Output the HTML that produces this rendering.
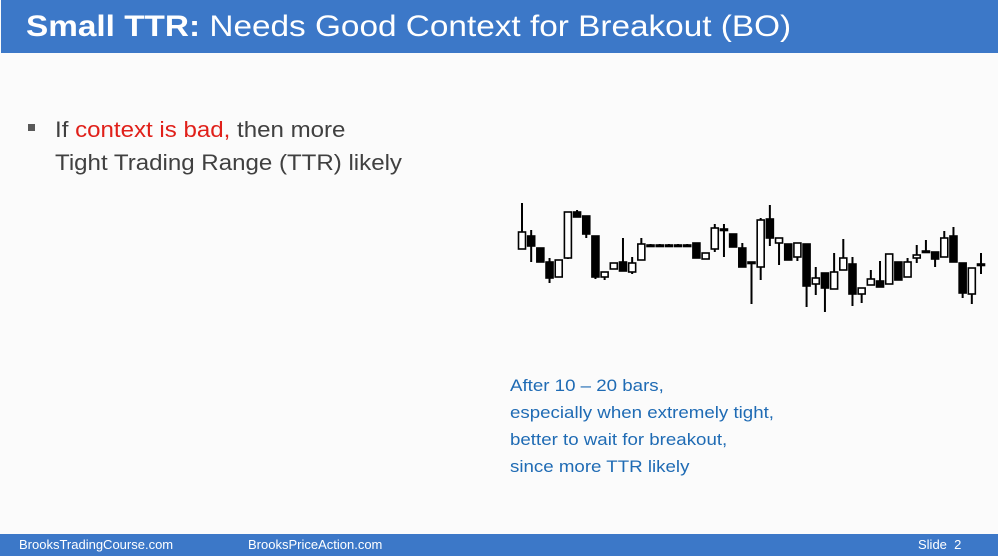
<!DOCTYPE html>
<html><head><meta charset="utf-8"><style>
body{margin:0;width:998px;height:556px;overflow:hidden;background:#fbfbfb;font-family:"Liberation Sans",sans-serif;position:relative}
#hdr{position:absolute;left:1px;top:0;width:997px;height:53px;background:#3c78c8;color:#fff;font-size:29.5px;line-height:53px;}
#hdr span{position:absolute;left:25px;top:0;white-space:nowrap;transform:scaleX(1.13);transform-origin:0 50%}
#ftr{position:absolute;left:0;top:534px;width:998px;height:22px;background:#3c78c8;color:#fff;font-size:13px;line-height:22px}
.ft{position:absolute;top:0}
#bul{position:absolute;left:55px;top:113px;font-size:22.5px;line-height:33px;color:#404040;white-space:nowrap;transform:scaleX(1.07);transform-origin:0 0}
#sq{position:absolute;left:28px;top:124px;width:7px;height:7px;background:#595959}
#note{position:absolute;left:510px;top:372px;font-size:17px;line-height:27px;color:#1f6bb4;white-space:nowrap;transform:scaleX(1.1);transform-origin:0 0}
</style></head><body>
<div id="hdr"><span><b>Small TTR:</b> Needs Good Context for Breakout (BO)</span></div>
<div id="sq"></div>
<div id="bul">If <span style="color:#e0201a">context is bad,</span> then more<br>Tight Trading Range (TTR) likely</div>
<svg id="chart" style="position:absolute;left:0;top:0" width="998" height="556"></svg>
<div id="note">After 10 – 20 bars,<br>especially when extremely tight,<br>better to wait for breakout,<br>since more TTR likely</div>
<div id="ftr">
<span class="ft" style="left:19px">BrooksTradingCourse.com</span>
<span class="ft" style="left:248px">BrooksPriceAction.com</span>
<span class="ft" style="left:918px">Slide&nbsp; 2</span>
</div>
<script>
const opens =[71,84,72,58,43,62,108,104,84,43,51,58,48,60,75,75,75,75,75,77,61,71,91,86,72,58,53,101,77,76,63,76,36,47,31,50,56,26,35,39,36,58,43,62,69,68,63,84,57,26,56];
const highs =[117,90,72,62,60,108,110,104,84,48,57,82,63,82,76,76,76,76,76,77,67,96,96,86,77,58,102,115,82,76,77,76,53,47,67,81,63,32,50,59,66,58,62,75,80,68,89,93,57,52,67];
const lows  =[71,58,58,37,43,61,103,82,41,40,51,49,46,60,75,75,75,75,75,62,61,68,63,73,53,16,40,74,55,60,59,13,25,8,31,50,14,17,35,33,36,40,43,57,69,53,63,58,22,16,46];
const closes=[88,74,58,42,60,108,103,86,43,48,57,49,57,76,75,75,75,75,75,62,67,92,90,73,53,58,100,82,82,60,77,34,42,32,48,62,26,32,41,33,66,40,58,65,69,61,82,58,27,52,56];
const svg=document.getElementById('chart');
const NS='http://www.w3.org/2000/svg';
const x0=522,x1=981;
function xs(i){return x0+(x1-x0)*i/(opens.length-1);}
function ys(p){return 320-p;}
for(let i=0;i<opens.length;i++){
  const x=xs(i),o=opens[i],c=closes[i];
  const g=document.createElementNS(NS,'g');
  
  
  const w=document.createElementNS(NS,'line');
  w.setAttribute('x1',x);w.setAttribute('x2',x);
  w.setAttribute('y1',ys(highs[i]));w.setAttribute('y2',ys(lows[i]));
  w.setAttribute('stroke','#000');w.setAttribute('stroke-width','2');
  g.appendChild(w);
  const top=ys(Math.max(o,c)),bot=ys(Math.min(o,c));
  const r=document.createElementNS(NS,'rect');
  r.setAttribute('x',x-3.5);r.setAttribute('width',7);
  r.setAttribute('y',top);r.setAttribute('height',Math.max(bot-top,1.5));
  const bull=c>o;
  r.setAttribute('fill',bull?'#fff':'#000');
  r.setAttribute('stroke','#000');r.setAttribute('stroke-width','1.6');
  g.appendChild(r);
  svg.appendChild(g);
}
</script>
</body></html>
